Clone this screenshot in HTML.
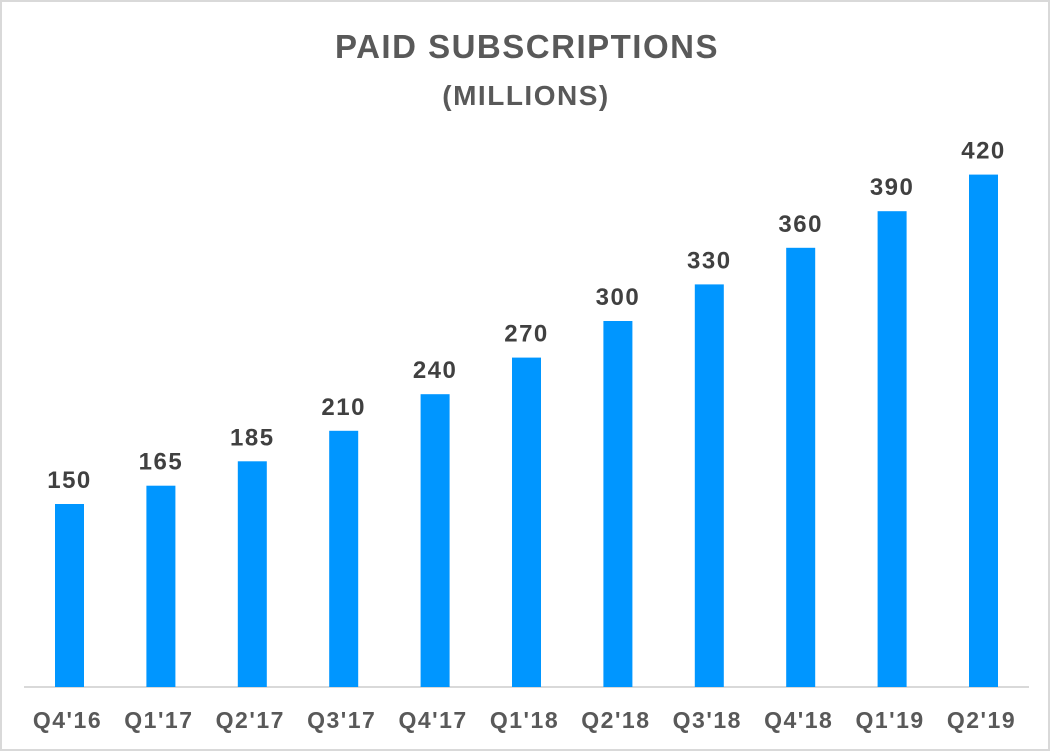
<!DOCTYPE html>
<html><head><meta charset="utf-8"><style>
body{margin:0;background:#fff;}
svg{display:block;font-family:"Liberation Sans",sans-serif;font-weight:bold;}
</style></head><body>
<svg width="1052" height="752">
<rect x="1" y="1" width="1048" height="749" fill="#fff" stroke="#d9d9d9" stroke-width="2"/>
<text x="527" y="58" text-anchor="middle" font-size="33" letter-spacing="1.5" fill="#595959">PAID SUBSCRIPTIONS</text>
<text x="526" y="105" text-anchor="middle" font-size="28" letter-spacing="1.5" fill="#595959">(MILLIONS)</text>
<line x1="24" y1="687" x2="1029" y2="687" stroke="#d9d9d9" stroke-width="2"/>
<g id="bars"></g>
</svg>
<script>
const categories=["Q4'16","Q1'17","Q2'17","Q3'17","Q4'17","Q1'18","Q2'18","Q3'18","Q4'18","Q1'19","Q2'19"];
const values=[150,165,185,210,240,270,300,330,360,390,420];
const valueLabels=["150","165","185","210","240","270","300","330","360","390","420"];
const base=687, step=91.4, x0=69.5, bw=29;
function xPos(i){return x0+i*step;}
function yPos(v){return base-v*1.22;}
const g=document.getElementById('bars');
const ns='http://www.w3.org/2000/svg';
categories.forEach((c,i)=>{
  const r=document.createElementNS(ns,'rect');
  r.setAttribute('x',xPos(i)-bw/2);r.setAttribute('y',yPos(values[i]));
  r.setAttribute('width',bw);r.setAttribute('height',base-yPos(values[i]));
  r.setAttribute('fill','#0096ff');
  
  
  g.appendChild(r);
  const t=document.createElementNS(ns,'text');
  t.setAttribute('x',xPos(i));t.setAttribute('y',yPos(values[i])-16);
  t.setAttribute('text-anchor','middle');t.setAttribute('font-size','24');t.setAttribute('letter-spacing','1.5');t.setAttribute('fill','#404040');
  t.textContent=valueLabels[i];
  
  
  g.appendChild(t);
  const l=document.createElementNS(ns,'text');
  l.setAttribute('x',xPos(i)-2);l.setAttribute('y',728);
  l.setAttribute('text-anchor','middle');l.setAttribute('font-size','23');l.setAttribute('letter-spacing','1.5');l.setAttribute('fill','#595959');
  l.textContent=c;
  
  
  g.appendChild(l);
});
</script>
</body></html>
